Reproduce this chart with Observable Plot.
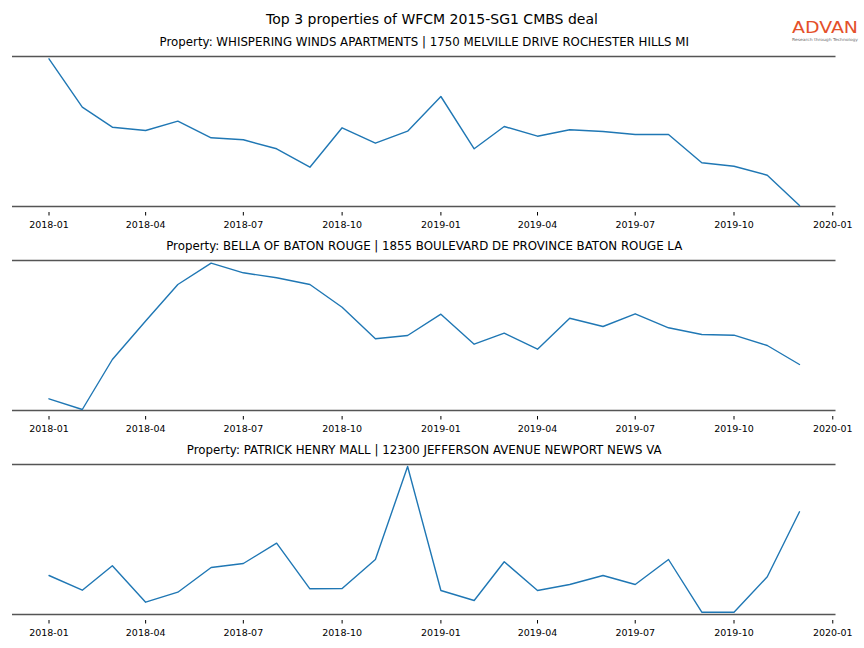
<!DOCTYPE html>
<html><head><meta charset="utf-8">
<script src="https://cdn.jsdelivr.net/npm/d3@7"></script>
<script src="https://cdn.jsdelivr.net/npm/@observablehq/plot@0.6"></script>
<style>
body{margin:0;background:#fff;}
#wrap{position:relative;width:864px;height:648px;font-family:"DejaVu Sans",sans-serif;overflow:hidden;background:#fff;}
#title{position:absolute;left:0;top:12px;width:864px;text-align:center;font-size:14px;line-height:15px;color:#000;}
.panel{position:absolute;left:0;width:864px;}
#logo{position:absolute;left:786px;top:14px;z-index:5;}
</style></head><body>
<div id="wrap">
  <div class="panel" id="p1" style="top:28px"></div>
  <div class="panel" id="p2" style="top:232px"></div>
  <div class="panel" id="p3" style="top:436px"></div>
  <div id="title">Top 3 properties of WFCM 2015-SG1 CMBS deal</div>
  <svg id="logo" width="78" height="30" viewBox="0 0 78 30">
    <text x="6" y="19.3" font-family="DejaVu Sans" font-size="16.5" textLength="66" lengthAdjust="spacingAndGlyphs" fill="#e4502a">ADVAN</text>
    <text x="6" y="26.6" font-family="DejaVu Sans" font-size="4" textLength="66" lengthAdjust="spacingAndGlyphs" fill="#6b6b6b">Research through Technology</text>
  </svg>
</div>
<script>
const months = ["2018-01","2018-02","2018-03","2018-04","2018-05","2018-06","2018-07","2018-08","2018-09","2018-10","2018-11","2018-12",
                "2019-01","2019-02","2019-03","2019-04","2019-05","2019-06","2019-07","2019-08","2019-09","2019-10","2019-11","2019-12"];
const tickLabels = ["2018-01","2018-04","2018-07","2018-10","2019-01","2019-04","2019-07","2019-10","2020-01"];
const titles = [
  "Property: WHISPERING WINDS APARTMENTS | 1750 MELVILLE DRIVE ROCHESTER HILLS MI",
  "Property: BELLA OF BATON ROUGE | 1855 BOULEVARD DE PROVINCE BATON ROUGE LA",
  "Property: PATRICK HENRY MALL | 12300 JEFFERSON AVENUE NEWPORT NEWS VA"
];
// relative activity values (y axis hidden in the reference)
const whisperingWinds = [147.7, 99.3, 79.3, 76.0, 85.3, 68.7, 66.7, 57.7, 39.3, 78.7, 63.3, 75.3,
                         110.0, 57.7, 80.0, 70.3, 76.7, 75.0, 72.0, 72.0, 43.7, 40.3, 31.3, 1.0];
const bellaBatonRouge = [11.7, 1.0, 51.0, 89.5, 126.0, 147.3, 137.7, 132.7, 126.0, 103.3, 71.7, 75.0,
                         96.3, 66.3, 77.3, 61.3, 92.3, 84.0, 96.7, 82.7, 76.0, 75.3, 65.0, 46.0];
const patrickHenry    = [39.0, 24.3, 48.7, 12.3, 22.3, 47.0, 51.0, 71.3, 25.7, 26.0, 55.0, 148.0,
                         24.0, 14.0, 52.7, 24.0, 30.0, 39.0, 30.0, 55.0, 2.3, 2.3, 37.7, 102.7];
const series = [whisperingWinds, bellaBatonRouge, patrickHenry];
const yDomain = [0, 150];
const xDomain = ["2017-11-28", "2020-01-04"];

const parse = d3.utcParse("%Y-%m");
const tickDates = tickLabels.map(parse);
const fmt = d3.utcFormat("%Y-%m");

series.forEach((vals, i) => {
  const data = months.map((m, j) => ({date: parse(m), value: vals[j]}));
  const chart = Plot.plot({
    width: 864, height: 204,
    marginLeft: 12, marginRight: 28.5, marginTop: 28, marginBottom: 26,
    style: {fontFamily: "DejaVu Sans", background: "white", color: "#000", overflow: "visible"},
    x: {type: "utc", domain: xDomain.map(d3.utcParse("%Y-%m-%d"))},
    y: {domain: yDomain, axis: null},
    marks: [
      Plot.axisX(tickDates, {tickSize: 3.5, dy: 6, tickPadding: 4.8, fontSize: 9.5, tickFormat: fmt, stroke: "#000"}),
      Plot.ruleY(yDomain, {stroke: "#555", strokeWidth: 1.7}),
      Plot.lineY(data, {x: "date", y: "value", stroke: "#1f77b4", strokeWidth: 1.4}),
      Plot.text([titles[i]], {frameAnchor: "top", lineAnchor: "middle", dy: -14.5, fontSize: 11.8, fill: "#000"})
    ]
  });
  document.getElementById("p" + (i + 1)).appendChild(chart);
});
</script>
</body></html>
